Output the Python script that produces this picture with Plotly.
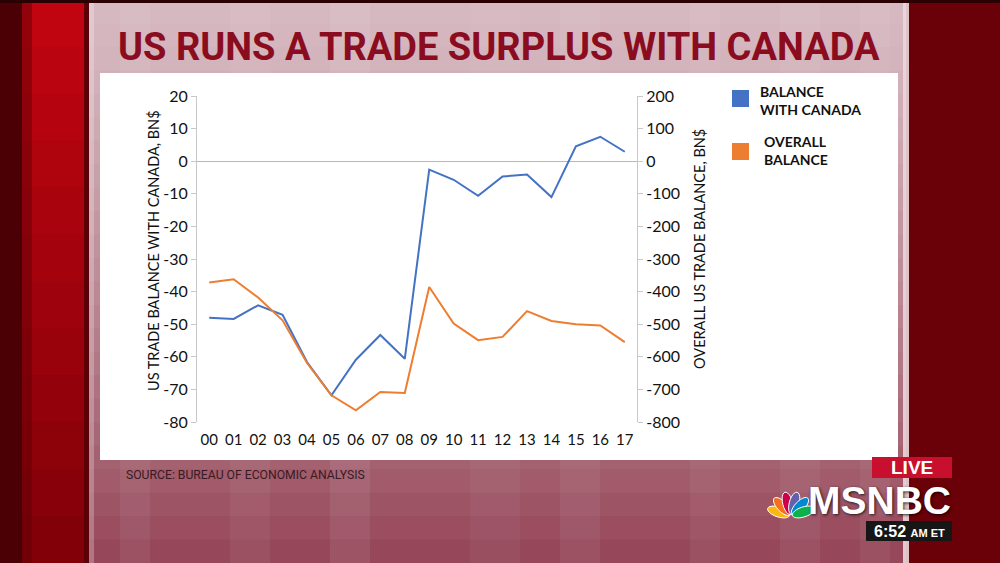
import math
import plotly.graph_objects as go

# ---------------- data ----------------
years = ["00", "01", "02", "03", "04", "05", "06", "07", "08", "09",
         "10", "11", "12", "13", "14", "15", "16", "17"]
canada_balance = [-48.0, -48.4, -44.2, -47.1, -61.6, -71.8, -60.9, -53.3, -60.6,
                  -2.6, -5.7, -10.6, -4.7, -4.1, -11.0, 4.6, 7.5, 2.9]
overall_balance = [-372, -362, -418, -488, -619, -718, -764, -708, -711,
                   -386, -498, -549, -539, -460, -490, -500, -504, -555]
left_ticks = [20, 10, 0, -10, -20, -30, -40, -50, -60, -70, -80]
right_ticks = [200, 100, 0, -100, -200, -300, -400, -500, -600, -700, -800]

W, H = 1000, 563
BLUE = "#4472c4"
ORANGE = "#ed7d31"
FONT = "Lato, 'Open Sans', sans-serif"


def px(x):
    return x / W


def py(y):
    return 1 - y / H


shapes = []


def rect(x0, y0, x1, y1, color, layer="below"):
    shapes.append(dict(type="rect", xref="paper", yref="paper",
                       x0=px(x0), x1=px(x1), y0=py(y1), y1=py(y0),
                       fillcolor=color, line=dict(width=0), layer=layer))


def lerp(c0, c1, t):
    return "rgb(%d,%d,%d)" % tuple(round(a + (b - a) * t) for a, b in zip(c0, c1))


# ---- background: right dark red
rect(0, 0, 1000, 563, "#6a0008")
# ---- left red strips
rect(0, 0, 22, 563, "#4a0004")
nL = 12
for i in range(nL):
    y0 = i * H / nL
    rect(22, y0, 84, y0 + H / nL + 1, lerp((192, 4, 16), (130, 0, 8), i / (nL - 1)))
rect(22, 0, 32, 563, "rgba(90,0,5,0.45)")
rect(84, 0, 89, 563, "#5a0006")
# ---- pink panel with vertical gradient
nP = 24
for i in range(nP):
    y0 = i * H / nP
    t = i / (nP - 1)
    rect(89, y0, 906, y0 + H / nP + 1, lerp((214, 184, 192), (150, 72, 90), t ** 1.3))
# faint vertical stripes
stripes = [(120, 150, 0.06), (230, 270, 0.05), (330, 370, 0.07), (470, 520, 0.04),
           (560, 600, 0.06), (690, 720, 0.05), (780, 820, 0.06), (860, 890, 0.05)]
for a, b, o in stripes:
    rect(a, 0, b, 563, "rgba(255,255,255,%.2f)" % o)
rect(89, 0, 94, 563, "rgba(255,255,255,0.25)")
rect(903, 0, 909, 563, "rgba(235,215,220,0.9)")
rect(0, 0, 1000, 3, "#2a0003")
# ---- white chart panel
rect(100, 73, 898, 460, "#ffffff")

# ---- MSNBC bug
rect(872, 457, 952, 478, "#c8102e", layer="above")
rect(866, 521, 952, 541, "#161616", layer="above")
feather_cols = ["#fcb711", "#f37021", "#cc004c", "#6460aa", "#0089d0", "#0db14b"]
cx, cy = 791, 516
for k, col in enumerate(feather_cols):
    ang = math.radians(-72 + k * 28.8)
    L, Wd, d = 11.5, 5.0, 13.0
    ex = cx + d * math.sin(ang)
    ey = cy - d * math.cos(ang)
    pts = []
    for j in range(24):
        t = 2 * math.pi * j / 24
        u = L * math.cos(t)
        v = Wd * math.sin(t)
        X = ex + u * math.sin(ang) + v * math.cos(ang)
        Y = ey - u * math.cos(ang) + v * math.sin(ang)
        pts.append((px(X), py(Y)))
    path = "M " + " L ".join("%.5f,%.5f" % p for p in pts) + " Z"
    shapes.append(dict(type="path", xref="paper", yref="paper", path=path,
                       fillcolor=col, line=dict(color="white", width=1), layer="above"))

# ---- legend squares
rect(732, 90, 749, 107, BLUE, layer="above")
rect(732, 143, 749, 160, ORANGE, layer="above")

fig = go.Figure()
fig.add_trace(go.Scatter(x=years, y=canada_balance, mode="lines",
                         line=dict(color=BLUE, width=2), name="BALANCE WITH CANADA",
                         yaxis="y"))
fig.add_trace(go.Scatter(x=years, y=overall_balance, mode="lines",
                         line=dict(color=ORANGE, width=2), name="OVERALL BALANCE",
                         yaxis="y2"))

annotations = [
    dict(text="<b>US RUNS A TRADE SURPLUS WITH CANADA</b>", x=px(499), y=py(47),
         xref="paper", yref="paper", showarrow=False, xanchor="center", yanchor="middle",
         font=dict(family="Roboto, sans-serif", size=38, weight=900, color="#8a0c1e")),
    dict(text="US TRADE BALANCE WITH CANADA, BN$", x=px(154), y=py(251), textangle=-90,
         xref="paper", yref="paper", showarrow=False, xanchor="center", yanchor="middle",
         font=dict(family=FONT, size=14.5, color="#111111")),
    dict(text="OVERALL US TRADE BALANCE, BN$", x=px(699), y=py(249), textangle=-90,
         xref="paper", yref="paper", showarrow=False, xanchor="center", yanchor="middle",
         font=dict(family=FONT, size=14.5, color="#111111")),
    dict(text="<b>BALANCE<br>WITH CANADA</b>", x=px(758), y=py(100), align="left",
         xref="paper", yref="paper", showarrow=False, xanchor="left", yanchor="middle",
         font=dict(family=FONT, size=14, color="#111111")),
    dict(text="<b>OVERALL<br>BALANCE</b>", x=px(762), y=py(150), align="left",
         xref="paper", yref="paper", showarrow=False, xanchor="left", yanchor="middle",
         font=dict(family=FONT, size=14, color="#111111")),
    dict(text="SOURCE: BUREAU OF ECONOMIC ANALYSIS", x=px(124), y=py(475),
         xref="paper", yref="paper", showarrow=False, xanchor="left", yanchor="middle",
         font=dict(family="Roboto, sans-serif", size=12.2, color="#3a1a22")),
    dict(text="<b>LIVE</b>", x=px(912), y=py(467.5),
         xref="paper", yref="paper", showarrow=False, xanchor="center", yanchor="middle",
         font=dict(family="'Liberation Sans', Arial, sans-serif", size=19, color="white")),
    dict(text="<b>MSNBC</b>", x=px(953), y=py(500),
         xref="paper", yref="paper", showarrow=False, xanchor="right", yanchor="middle",
         font=dict(family="'Liberation Sans', Arial, sans-serif", size=39, color="white",
                   shadow="1px 1px 3px rgba(0,0,0,0.8)")),
    dict(text="<b>6:52</b> <b><span style='font-size:11px'>AM ET</span></b>", x=px(909), y=py(531),
         xref="paper", yref="paper", showarrow=False, xanchor="center", yanchor="middle",
         font=dict(family="'Liberation Sans', Arial, sans-serif", size=16, color="white")),
]

axis_common = dict(showgrid=False, showline=True, linecolor="#c8c8c8", linewidth=1,
                   ticks="outside", ticklen=5, tickcolor="#c8c8c8", automargin=False,
                   tickfont=dict(family=FONT, size=16, color="#111111"))

fig.update_layout(
    width=W, height=H,
    margin=dict(l=0, r=0, t=0, b=0, pad=0, autoexpand=False),
    paper_bgcolor="#6a0008",
    plot_bgcolor="rgba(0,0,0,0)",
    showlegend=False,
    shapes=shapes,
    annotations=annotations,
    xaxis=dict(type="category", domain=[px(197), px(637)], range=[-0.5, 17.5],
               tickvals=years, ticktext=years, showgrid=False, showline=False,
               zeroline=False, ticks="", anchor="y", automargin=False,
               ticklabelstandoff=7,
               tickfont=dict(family=FONT, size=15, color="#111111")),
    yaxis=dict(domain=[py(422), py(96)], range=[-80, 20], tickvals=left_ticks,
               ticktext=[str(v) for v in left_ticks],
               zeroline=True, zerolinecolor="#b8b8b8", zerolinewidth=1,
               **axis_common),
    yaxis2=dict(domain=[py(422), py(96)], range=[-800, 200], tickvals=right_ticks,
                ticktext=[str(v) for v in right_ticks], overlaying="y", side="right",
                anchor="x", zeroline=False, **axis_common),
)

fig.write_html("out.html", config={"displayModeBar": False},
               post_script="document.body.style.margin='0';document.body.style.overflow='hidden';")
